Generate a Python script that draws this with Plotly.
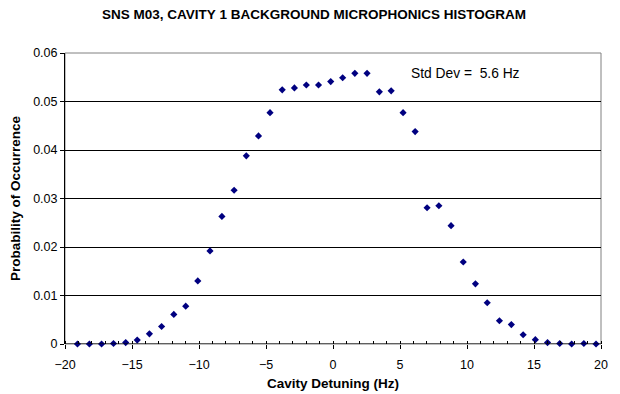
import plotly.graph_objects as go

detuning_hz = [-19.07, -18.18, -17.27, -16.38, -15.47, -14.61, -13.70, -12.79, -11.88, -10.99,
               -10.09, -9.18, -8.29, -7.38, -6.47, -5.56, -4.70, -3.79, -2.88, -1.99,
               -1.08, -0.17, 0.72, 1.63, 2.54, 3.46, 4.34, 5.23, 6.13, 7.02,
               7.90, 8.81, 9.72, 10.63, 11.51, 12.42, 13.31, 14.19, 15.10, 16.01,
               16.92, 17.81, 18.72, 19.63]
probability = [0.0, 0.0, 0.0, 0.0001, 0.0003, 0.0008, 0.0021, 0.0036, 0.0061, 0.0078,
               0.0130, 0.0192, 0.0263, 0.0317, 0.0388, 0.0429, 0.0477, 0.0524, 0.0528, 0.0534,
               0.0534, 0.0541, 0.0549, 0.0558, 0.0558, 0.0520, 0.0522, 0.0477, 0.0438, 0.0281,
               0.0285, 0.0244, 0.0169, 0.0124, 0.0085, 0.0048, 0.0040, 0.0019, 0.0009, 0.0003,
               0.0001, 0.0, 0.0001, 0.0]

title_text = "SNS M03, CAVITY 1 BACKGROUND MICROPHONICS HISTOGRAM"
x_title = "Cavity Detuning (Hz)"
y_title = "Probability of Occurrence"
note_text = "Std Dev =&nbsp;&nbsp;5.6 Hz"

font_family = "Liberation Sans, Arial, sans-serif"

# page body has an 8px default margin, so the figure is sized/offset to compensate
W, H = 612, 386
ML, MR, MT, MB = 57, 13, 45, 50
plot_w = W - ML - MR
plot_h = H - MT - MB

fig = go.Figure()
fig.add_trace(go.Scatter(
    x=detuning_hz, y=probability, mode="markers",
    marker=dict(symbol="diamond", size=5.5, color="#000080", line=dict(width=0)),
    cliponaxis=False, showlegend=False,
))

fig.update_layout(
    width=W, height=H,
    margin=dict(l=ML, r=MR, t=MT, b=MB),
    paper_bgcolor="white", plot_bgcolor="white",
    font=dict(family=font_family, color="black", size=12),
    title=dict(text="<b>" + title_text + "</b>", x=0.5, xanchor="center",
               y=1 - 6 / H, yanchor="middle", font=dict(size=13.5, family=font_family)),
    shapes=[dict(type="rect", xref="paper", yref="paper", x0=0, x1=1, y0=0, y1=1,
                 line=dict(color="#808080", width=1), layer="below")],
    annotations=[
        dict(text=note_text, xref="x", yref="y", x=5.7, y=0.0557,
             xanchor="left", yanchor="middle", showarrow=False,
             font=dict(size=13.8, family=font_family)),
        dict(text="<b>" + x_title + "</b>", xref="paper", yref="paper", x=0.5, y=-39 / plot_h,
             xanchor="center", yanchor="middle", showarrow=False,
             font=dict(size=13.5, family=font_family)),
        dict(text="<b>" + y_title + "</b>", xref="paper", yref="paper", x=-50 / plot_w, y=0.5,
             xanchor="center", yanchor="middle", showarrow=False, textangle=-90,
             font=dict(size=13.5, family=font_family)),
    ],
)

fig.update_xaxes(
    range=[-20, 20], tickmode="linear", tick0=-20, dtick=5,
    showgrid=False, zeroline=False, showline=False,
    ticks="outside", ticklen=4, tickcolor="black", tickwidth=1,
    minor=dict(ticks="inside", ticklen=3, dtick=1, tick0=-20, tickcolor="black", showgrid=False),
    tickfont=dict(size=12.5), ticklabelstandoff=5,
)
fig.update_yaxes(
    range=[0, 0.06], tickmode="linear", tick0=0, dtick=0.01,
    tickformat="~g",
    showgrid=True, gridcolor="black", gridwidth=1,
    zeroline=False, showline=True, linecolor="black", linewidth=1,
    ticks="outside", ticklen=4, tickcolor="black",
    tickfont=dict(size=12.5),
)
fig.add_shape(type="line", xref="paper", yref="y", x0=0, x1=1, y0=0, y1=0,
              line=dict(color="black", width=1))

fig.write_html("out.html")
